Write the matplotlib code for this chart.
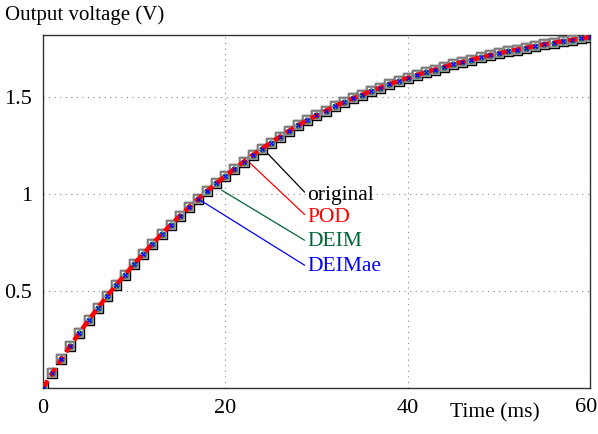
import numpy as np
import matplotlib.pyplot as plt
from matplotlib.transforms import blended_transform_factory

time_ms = list(range(61))
voltage = [0.000, 0.075, 0.148, 0.218, 0.285, 0.350, 0.412, 0.472, 0.530, 0.585,
           0.639, 0.692, 0.743, 0.793, 0.841, 0.887, 0.931, 0.974, 1.015, 1.055,
           1.093, 1.130, 1.166, 1.200, 1.233, 1.265, 1.296, 1.326, 1.354, 1.380,
           1.405, 1.429, 1.452, 1.473, 1.493, 1.512, 1.531, 1.549, 1.566, 1.583,
           1.599, 1.614, 1.628, 1.642, 1.656, 1.669, 1.681, 1.693, 1.704, 1.715,
           1.726, 1.736, 1.745, 1.755, 1.763, 1.772, 1.780, 1.788, 1.795, 1.802,
           1.809]

labels = ['original', 'POD', 'DEIM', 'DEIMae']
label_colors = ['#000000', '#ff0000', '#006633', '#0000ff']
line_start = [(24.6, 1.211), (22.7, 1.16), (19.6, 1.02), (17.2, 0.97)]
label_y = [0.995, 0.881, 0.753, 0.624]

plt.rcParams['font.family'] = ['Liberation Serif', 'DejaVu Serif']

fig = plt.figure(figsize=(5.98, 4.34), dpi=100)
ax = fig.add_axes([43/598, 46/434, 547/598, 353/434])

t = np.array(time_ms)
v = np.array(voltage)

ax.plot(t, v, ls='none', marker='s', ms=6.8, mfc='none', mec='black', mew=1.0, zorder=3)
ax.plot(t, v, ls='none', marker='s', ms=5.2, mfc='none', mec='#8a8a8a', mew=1.3, zorder=3)
ax.plot(t, v, ls='none', marker='o', ms=3.6, mfc='none', mec='#006633', mew=0.9, zorder=4)
ax.plot(t, v, color='red', ls=(0, (2, 1.2)), lw=3.2, zorder=5)
ax.plot(t, v, ls='none', marker='x', ms=2.8, mec='blue', mew=0.9, zorder=6)

for lab, c, xy, ly in zip(labels, label_colors, line_start, label_y):
    ax.annotate(lab, xy=xy, xytext=(29.0, ly),
                color=c, fontsize=15.5, va='center', ha='left',
                arrowprops=dict(arrowstyle='-', color=c, lw=0.9,
                                shrinkA=0, shrinkB=0, relpos=(0, 0.5)))

ax.set_xlim(0, 60)
ax.set_ylim(0, 1.82)
ax.set_xticks([0, 20, 40, 60])
ax.set_xticklabels(['0', '20', '40', ''])
ax.set_yticks([0.5, 1, 1.5])
ax.set_yticklabels(['0.5', '1', '1.5'])
ax.tick_params(length=0, labelsize=16, pad=8)
# last x label sits a little inside the right edge
trans = blended_transform_factory(ax.transData, fig.transFigure)
ax.text(59.55, 1 - 407/434, '60', transform=trans, fontsize=16,
        ha='center', va='center', clip_on=False)
ax.grid(True, ls=(0, (1, 4)), color='#888888', lw=0.8)
for s in ax.spines.values():
    s.set_color('#333333')
    s.set_linewidth(1.0)

fig.text(5/598, 1 - 15/434, 'Output voltage (V)', fontsize=15, va='center', ha='left')
fig.text(495/598, 1 - 413/434, 'Time (ms)', fontsize=15.5, va='center', ha='center')

fig.savefig('out.png', dpi=100)
